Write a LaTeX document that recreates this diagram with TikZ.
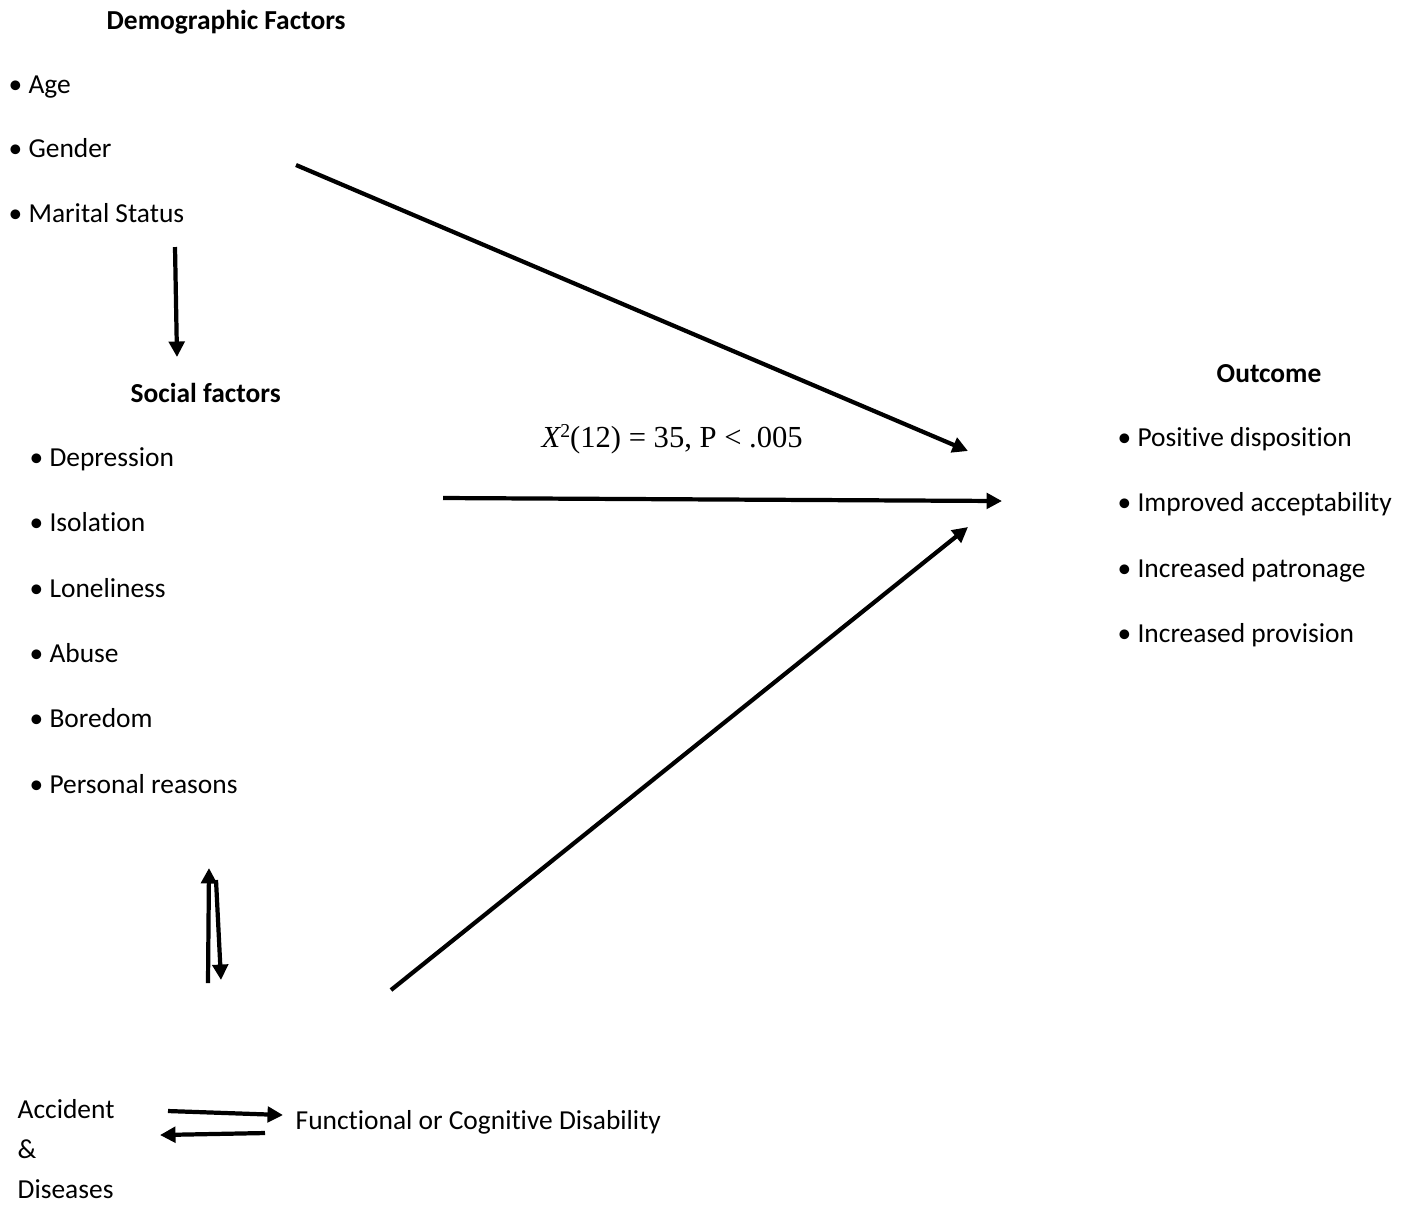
\documentclass[tikz,border=0pt]{standalone}
\usepackage{fontspec}
\setmainfont{Carlito}[Ligatures=NoCommon]
\newfontfamily\timesfont{Liberation Serif}
\usepackage{tikz}
\usetikzlibrary{arrows.meta, positioning}

\tikzset{
    item/.style={anchor=base west, inner sep=0pt, font=\fontsize{7.8}{9}\selectfont},
    head/.style={item, font=\fontsize{7.8}{9}\selectfont\bfseries},
    link/.style={line width=1.2pt, -{Triangle[length=4.4pt,width=4.4pt]}}
}

\begin{document}
\begin{tikzpicture}[x=0.01cm, y=-0.01cm]
    \useasboundingbox (0,0) rectangle (1416,1205);

    % Demographic factors
    \node[head] (demo) at (106,29) {Demographic Factors};
    \node[item] (age) at (8,93) {• Age};
    \node[item] (gender) at (8,157) {• Gender};
    \node[item] (marital) at (8,222) {• Marital Status};

    % Social factors
    \node[head] (social) at (130,402) {Social factors};
    \node[item] (depr) at (29,466) {• Depression};
    \node[item] (isol) at (29,531) {• Isolation};
    \node[item] (lonely) at (29,597) {• Loneliness};
    \node[item] (abuse) at (29,662) {• Abuse};
    \node[item] (bored) at (29,727) {• Boredom};
    \node[item] (personal) at (29,793) {• Personal reasons};

    % Outcome
    \node[head] (outcome) at (1216,382) {Outcome};
    \node[item] (positive) at (1117,446) {• Positive disposition};
    \node[item] (improved) at (1117,511) {• Improved acceptability};
    \node[item] (patron) at (1117,577) {• Increased patronage};
    \node[item] (provision) at (1117,642) {• Increased provision};

    % Accident & diseases
    \node[item] (accident) at (17,1118) {Accident};
    \node[item] (amp) at (17,1158) {\&};
    \node[item] (diseases) at (17,1198) {Diseases};
    \node[item] (disab) at (295,1129) {Functional or Cognitive Disability};

    % Statistic
    \node[anchor=base west, inner sep=0pt, font=\timesfont\fontsize{8.7}{10}\selectfont] (stat) at (541,447)
        {\textit{X}\kern-0.3pt\raisebox{2.6pt}{\fontsize{5.6}{6}\selectfont 2}(12) = 35, P < .005};

    % Arrow end points
    \coordinate (demoS) at (175,247);
    \coordinate (socialN) at (177,357);
    \coordinate (demoE) at (296,165);
    \coordinate (outA) at (968,451);
    \coordinate (socialE) at (443,498);
    \coordinate (outB) at (1002,501);
    \coordinate (accN) at (391,990);
    \coordinate (outC) at (968,527);
    \coordinate (upS) at (208,983);
    \coordinate (upN) at (209,868);
    \coordinate (downN) at (216,880);
    \coordinate (downS) at (221,980);
    \coordinate (toR1) at (168,1111);
    \coordinate (toR2) at (283,1115);
    \coordinate (toL1) at (265,1133);
    \coordinate (toL2) at (160,1135);

    % Arrows
    \draw[link] (demoS) -- (socialN);
    \draw[link] (demoE) -- (outA);
    \draw[link] (socialE) -- (outB);
    \draw[link] (accN) -- (outC);
    \draw[link] (upS) -- (upN);
    \draw[link] (downN) -- (downS);
    \draw[link] (toR1) -- (toR2);
    \draw[link] (toL1) -- (toL2);
\end{tikzpicture}
\end{document}
